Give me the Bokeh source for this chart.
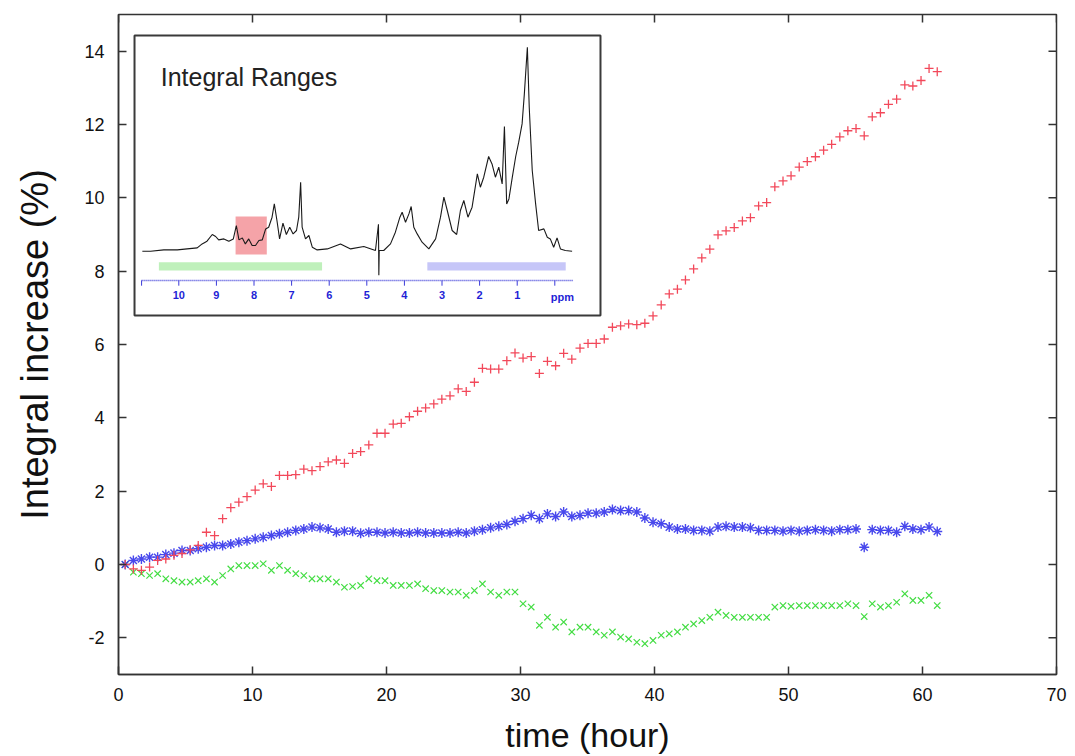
from bokeh.plotting import figure
from bokeh.models import Range1d, FixedTicker
from bokeh.embed import file_html
from bokeh.resources import INLINE
from bokeh.core.properties import value

# ---------------- main data ----------------
time_h = [0.5, 1.11, 1.71, 2.32, 2.92, 3.53, 4.14, 4.74, 5.35, 5.95,
          6.56, 7.17, 7.77, 8.38, 8.98, 9.59, 10.2, 10.8, 11.41, 12.01,
          12.62, 13.23, 13.83, 14.44, 15.04, 15.65, 16.26, 16.86, 17.47, 18.07,
          18.68, 19.29, 19.89, 20.5, 21.1, 21.71, 22.32, 22.92, 23.53, 24.13,
          24.74, 25.35, 25.95, 26.56, 27.16, 27.77, 28.38, 28.98, 29.59, 30.19,
          30.8, 31.41, 32.01, 32.62, 33.22, 33.83, 34.44, 35.04, 35.65, 36.25,
          36.86, 37.47, 38.07, 38.68, 39.28, 39.89, 40.5, 41.1, 41.71, 42.31,
          42.92, 43.53, 44.13, 44.74, 45.34, 45.95, 46.56, 47.16, 47.77, 48.37,
          48.98, 49.59, 50.19, 50.8, 51.4, 52.01, 52.62, 53.22, 53.83, 54.43,
          55.04, 55.65, 56.25, 56.86, 57.46, 58.07, 58.68, 59.28, 59.89, 60.49,
          61.1]

red_aromatic = [0.0, -0.12, -0.16, -0.07, 0.11, 0.15, 0.25, 0.3, 0.4, 0.52,
                0.88, 0.79, 1.25, 1.55, 1.7, 1.85, 2.03, 2.2, 2.13, 2.43,
                2.43, 2.45, 2.6, 2.56, 2.67, 2.8, 2.85, 2.76, 3.03, 3.08,
                3.26, 3.58, 3.58, 3.83, 3.85, 4.03, 4.18, 4.27, 4.38, 4.51,
                4.6, 4.79, 4.72, 4.97, 5.35, 5.33, 5.33, 5.56, 5.77, 5.63,
                5.67, 5.21, 5.54, 5.42, 5.76, 5.6, 5.9, 6.03, 6.03, 6.15,
                6.47, 6.51, 6.56, 6.54, 6.58, 6.78, 7.08, 7.38, 7.51, 7.76,
                8.06, 8.36, 8.6, 8.99, 9.1, 9.19, 9.37, 9.46, 9.78, 9.87,
                10.3, 10.46, 10.6, 10.84, 10.99, 11.12, 11.3, 11.46, 11.66, 11.83,
                11.89, 11.69, 12.21, 12.32, 12.55, 12.69, 13.08, 13.05, 13.2, 13.53,
                13.44]

blue_aliphatic = [0.0, 0.11, 0.15, 0.2, 0.2, 0.27, 0.31, 0.38, 0.38, 0.43,
                  0.47, 0.52, 0.52, 0.56, 0.61, 0.65, 0.7, 0.74, 0.79, 0.84,
                  0.88, 0.93, 0.97, 1.02, 1.0, 0.97, 0.88, 0.91, 0.91, 0.85,
                  0.88, 0.88, 0.86, 0.88, 0.86, 0.86, 0.88, 0.86, 0.86, 0.86,
                  0.86, 0.88, 0.86, 0.91, 0.95, 1.0, 1.04, 1.09, 1.18, 1.25,
                  1.34, 1.25, 1.38, 1.31, 1.43, 1.31, 1.34, 1.4, 1.4, 1.43,
                  1.5, 1.47, 1.47, 1.43, 1.27, 1.15, 1.11, 1.02, 0.97, 0.97,
                  0.93, 0.93, 0.91, 1.02, 1.04, 1.02, 1.02, 1.0, 0.93, 0.93,
                  0.93, 0.91, 0.93, 0.91, 0.93, 0.95, 0.93, 0.91, 0.95, 0.95,
                  0.97, 0.47, 0.95, 0.93, 0.93, 0.88, 1.04, 0.97, 0.95, 1.02,
                  0.9]

green_lowfield = [0.0, -0.21, -0.25, -0.3, -0.25, -0.39, -0.44, -0.48, -0.48, -0.44,
                  -0.39, -0.48, -0.3, -0.12, -0.03, -0.03, -0.03, 0.02, -0.16, -0.03,
                  -0.16, -0.25, -0.3, -0.39, -0.39, -0.39, -0.48, -0.62, -0.6, -0.57,
                  -0.39, -0.44, -0.44, -0.57, -0.57, -0.57, -0.53, -0.66, -0.71, -0.71,
                  -0.75, -0.75, -0.84, -0.71, -0.53, -0.75, -0.84, -0.75, -0.75, -1.07,
                  -1.16, -1.66, -1.44, -1.71, -1.57, -1.84, -1.71, -1.71, -1.84, -1.93,
                  -1.84, -1.98, -2.03, -2.12, -2.16, -2.07, -1.93, -1.89, -1.84, -1.71,
                  -1.62, -1.53, -1.44, -1.3, -1.39, -1.44, -1.44, -1.44, -1.44, -1.44,
                  -1.16, -1.12, -1.14, -1.12, -1.12, -1.12, -1.12, -1.12, -1.12, -1.07,
                  -1.12, -1.42, -1.07, -1.16, -1.12, -1.03, -0.8, -0.98, -0.98, -0.84,
                  -1.12]

x_ticks = [0, 10, 20, 30, 40, 50, 60, 70]
y_ticks = [-2, 0, 2, 4, 6, 8, 10, 12, 14]
x_label = "time (hour)"
y_label = "Integral increase (%)"

# ---------------- inset spectrum data (ppm, arbitrary intensity) ----------------
spec_ppm = [10.97, 10.75, 10.4, 10.04, 9.78, 9.51, 9.38, 9.25, 9.11, 9.02,
            8.94, 8.8, 8.67, 8.55, 8.47, 8.4, 8.31, 8.23, 8.14, 8.05,
            7.96, 7.87, 7.78, 7.69, 7.61, 7.52, 7.46, 7.39, 7.32, 7.23,
            7.14, 7.05, 6.96, 6.87, 6.81, 6.76, 6.72, 6.63, 6.54, 6.45,
            6.32, 6.05, 5.7, 5.43, 5.08, 4.77, 4.69, 4.68, 4.67, 4.55,
            4.37, 4.24, 4.12, 4.06, 3.97, 3.88, 3.82, 3.75, 3.66, 3.53,
            3.35, 3.17, 3.04, 2.95, 2.86, 2.73, 2.61, 2.51, 2.42, 2.31,
            2.2, 2.06, 1.98, 1.89, 1.76, 1.67, 1.58, 1.49, 1.4, 1.34,
            1.28, 1.22, 1.13, 1.04, 0.96, 0.87, 0.81, 0.73, 0.68, 0.6,
            0.51, 0.43, 0.29, 0.2, 0.12, 0.03, -0.06, -0.15, -0.28, -0.46]
spec_int = [0, 0, 1.3, 1.3, 2.3, 3.3, 7.3, 10, 16.7, 14.7,
            11.3, 12.3, 10, 12.3, 25.7, 11.3, 13.3, 7.3, 12.3, 5.7,
            5.7, 10.7, 11.3, 22.3, 24, 34, 47.3, 30.7, 12.3, 28,
            16.7, 24, 17.3, 20.7, 34, 69, 24, 12.3, 15.7, 4,
            1.3, 2.3, 7.3, 2.3, 4.7, 0.7, 27, -24, 0.7, 0.7,
            7.3, 19, 34, 39, 29, 37.3, 44.7, 24, 17.3, 9,
            2.3, 12.3, 34, 54, 40.7, 20.7, 16.7, 40.7, 50.7, 34,
            44, 77.3, 64, 74, 94.7, 87.3, 74, 84, 67.3, 124.7,
            47.3, 52.3, 74, 94.7, 109, 127.3, 157.3, 204, 144, 80.7,
            47.3, 20.7, 22.3, 14, 12.3, 4, 13.3, 2.3, 0.7, 0]

# integral ranges (ppm)
range_red = (8.49, 7.66)
range_green = (10.53, 6.19)
range_blue = (3.39, -0.29)
ppm_ticks = [10, 9, 8, 7, 6, 5, 4, 3, 2, 1]
ppm_tick_labels = ["10", "9", "8", "7", "6", "5", "4", "3", "2", "1"]

FONT = "Liberation Sans"
BORDER = "#333333"

p = figure(frame_width=938, frame_height=660,
           x_range=Range1d(0, 70), y_range=Range1d(-3, 15),
           output_backend="svg", toolbar_location=None,
           min_border_left=118, min_border_right=12,
           min_border_top=14, min_border_bottom=82,
           background_fill_color="white", border_fill_color="white")
p.grid.visible = False
p.outline_line_color = BORDER
p.outline_line_width = 1.5

# ranges for the inset, laid over the plot frame
p.extra_x_ranges = {"ppm": Range1d(11.604, -13.343)}
p.extra_y_ranges = {"inten": Range1d(-423.3, 236.7)}

def style_axis(ax):
    ax.axis_line_color = BORDER
    ax.axis_line_width = 1.5
    ax.major_tick_line_color = BORDER
    ax.major_tick_line_width = 1.5
    ax.major_tick_in = 8
    ax.major_tick_out = 0
    ax.minor_tick_line_color = None
    ax.major_label_text_font = FONT
    ax.major_label_text_font_size = "18px"
    ax.major_label_text_color = "#111111"
    ax.axis_label_text_font = FONT
    ax.axis_label_text_font_style = "normal"
    ax.axis_label_text_color = "#111111"

xa = p.xaxis[0]
xa.ticker = FixedTicker(ticks=x_ticks)
style_axis(xa)
xa.major_label_standoff = 13
xa.axis_label = x_label
xa.axis_label_text_font_size = "34px"
xa.axis_label_text_line_height = 0.75
xa.axis_label_standoff = 12

ya = p.yaxis[0]
ya.ticker = FixedTicker(ticks=y_ticks)
style_axis(ya)
ya.major_label_standoff = 14
ya.major_label_overrides = {-2: "-2"}
ya.axis_label = y_label
ya.axis_label_text_font_size = "38px"
ya.axis_label_standoff = 25

# mirrored inward ticks on the top and right edges (8 px long)
tick_dy = 8 * 18 / 660
tick_dx = 8 * 70 / 938
p.segment(x0=x_ticks, y0=[15] * len(x_ticks), x1=x_ticks,
          y1=[15 - tick_dy] * len(x_ticks), line_color=BORDER, line_width=1.5)
p.segment(x0=[70] * len(y_ticks), y0=y_ticks, x1=[70 - tick_dx] * len(y_ticks),
          y1=y_ticks, line_color=BORDER, line_width=1.5)

# ---------------- series ----------------
p.scatter(time_h, green_lowfield, marker="x", size=9,
          line_color="#44dd44", line_width=1.2)
p.scatter(time_h, blue_aliphatic, marker="asterisk", size=10,
          line_color="#3434ea", line_width=1.4, line_alpha=0.9)
p.scatter(time_h, red_aromatic, marker="cross", size=9,
          line_color="#f2485a", line_width=1.3)

# ---------------- inset ----------------
R = dict(x_range_name="ppm", y_range_name="inten")
p.quad(left=[11.178], right=[-1.215], top=[215.7], bottom=[-64.3],
       fill_color="white", line_color="#3a3a3a", line_width=2, **R)
p.quad(left=[range_red[0]], right=[range_red[1]], top=[34.7], bottom=[-3.3],
       fill_color="#f5a3a8", line_color=None, **R)
p.quad(left=[range_green[0]], right=[range_green[1]], top=[-11], bottom=[-19.3],
       fill_color="#bff0bb", line_color=None, **R)
p.quad(left=[range_blue[0]], right=[range_blue[1]], top=[-11], bottom=[-19.3],
       fill_color="#c6c6f8", line_color=None, **R)
p.line(spec_ppm, spec_int, line_color="#1a1a1a", line_width=1.1, **R)

# ppm scale
p.line([10.99, -0.5], [-29.3, -29.3], line_color="#3a3ad8", line_width=1.5,
       line_dash="1 1", **R)
p.segment(x0=ppm_ticks + [0, 10.99], y0=[-29.3] * 12,
          x1=ppm_ticks + [0, 10.99], y1=[-34.5] * 12,
          line_color="#3a3ad8", line_width=1, **R)
p.text(x=ppm_ticks, y=[-40] * len(ppm_ticks), text=ppm_tick_labels,
       text_align="center", text_baseline="top",
       text_font=value(FONT), text_font_style="bold", text_font_size="11px",
       text_color="#1f1fd6", **R)
p.text(x=[-0.2], y=[-40], text=["ppm"], text_align="center", text_baseline="top",
       text_font=value(FONT), text_font_style="bold", text_font_size="11px",
       text_color="#1f1fd6", **R)
p.text(x=[10.48], y=[174.7], text=["Integral Ranges"], text_align="left",
       text_baseline="alphabetic", text_font=value(FONT), text_font_size="25px",
       text_color="#222222", **R)

open("out.html", "w").write(file_html(p, INLINE))
